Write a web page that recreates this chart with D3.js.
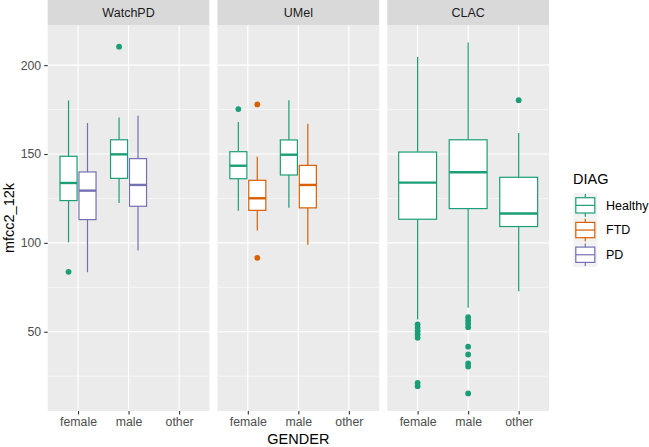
<!DOCTYPE html>
<html><head><meta charset="utf-8">
<script src="https://cdn.jsdelivr.net/npm/d3@7"></script>
<style>body{margin:0;background:#fff;} text{font-family:Arial,"Liberation Sans",sans-serif;}</style>
</head><body><svg id="c" width="649" height="447"></svg>
<script>
const panels = ["WatchPD", "UMel", "CLAC"];
const genders = ["female", "male", "other"];
const diags = ["Healthy", "FTD", "PD"];
const diagColors = ["#1B9E77", "#D95F02", "#7570B3"];
const yTicks = [50, 100, 150, 200];
const yMinor = [25, 75, 125, 175];

// box stats: [panel, gender, diag, lowerWhisker, q1, median, q3, upperWhisker]
const boxesWatchPD = [
  ["WatchPD", "female", "Healthy", 100.3, 123.8, 133.7, 148.7, 180.1],
  ["WatchPD", "female", "PD", 83.5, 113.1, 129.4, 139.9, 167.4],
  ["WatchPD", "male", "Healthy", 122.5, 136.3, 149.8, 158.0, 170.6],
  ["WatchPD", "male", "PD", 95.7, 120.6, 132.6, 147.4, 171.5]
];
const boxesUMel = [
  ["UMel", "female", "Healthy", 118.1, 136.1, 143.4, 151.3, 168.0],
  ["UMel", "female", "FTD", 106.9, 118.3, 125.1, 135.2, 148.5],
  ["UMel", "male", "Healthy", 119.7, 138.2, 149.6, 157.9, 180.3],
  ["UMel", "male", "FTD", 99.0, 119.7, 132.6, 143.6, 167.0]
];
const boxesCLAC = [
  ["CLAC", "female", "Healthy", 56.9, 113.3, 133.9, 151.1, 204.5],
  ["CLAC", "male", "Healthy", 63.5, 119.3, 139.7, 158.0, 212.7],
  ["CLAC", "other", "Healthy", 72.8, 109.2, 116.5, 136.9, 161.8]
];
// outliers: [panel, gender, diag, value]
const outliers = [
  ["WatchPD", "female", "Healthy", 83.7],
  ["WatchPD", "male", "Healthy", 210.4],
  ["UMel", "female", "Healthy", 175.3],
  ["UMel", "female", "FTD", 177.9],
  ["UMel", "female", "FTD", 91.6],
  ["CLAC", "female", "Healthy", 54.1],
  ["CLAC", "female", "Healthy", 52.2],
  ["CLAC", "female", "Healthy", 50.3],
  ["CLAC", "female", "Healthy", 48.5],
  ["CLAC", "female", "Healthy", 46.6],
  ["CLAC", "female", "Healthy", 21.3],
  ["CLAC", "female", "Healthy", 19.4],
  ["CLAC", "male", "Healthy", 58.2],
  ["CLAC", "male", "Healthy", 56.4],
  ["CLAC", "male", "Healthy", 54.5],
  ["CLAC", "male", "Healthy", 52.6],
  ["CLAC", "male", "Healthy", 41.6],
  ["CLAC", "male", "Healthy", 37.2],
  ["CLAC", "male", "Healthy", 32.2],
  ["CLAC", "male", "Healthy", 30.4],
  ["CLAC", "male", "Healthy", 15.3],
  ["CLAC", "other", "Healthy", 180.3]
];

const boxes = boxesWatchPD.concat(boxesUMel, boxesCLAC).map(r => ({
  panel: r[0], gender: r[1], diag: r[2], lw: r[3], q1: r[4], med: r[5], q3: r[6], uw: r[7]
}));

const svg = d3.select("#c");
const plotTop = 25, plotBottom = 411, stripH = 25;
const panelW = 161.7, panelX0 = 47.7, panelGap = 8.1;
const color = d3.scaleOrdinal().domain(diags).range(diagColors);

const allVals = boxes.flatMap(b => [b.lw, b.uw]).concat(outliers.map(o => o[3]));
const lo = d3.min(allVals), hi = d3.max(allVals), pad = (hi - lo) * 0.05;
const y = d3.scaleLinear().domain([lo - pad, hi + pad]).range([plotBottom, plotTop]);

panels.forEach((p, pi) => {
  const x0 = panelX0 + pi * (panelW + panelGap);
  const g = svg.append("g").attr("transform", `translate(${x0},0)`);
  const x = d3.scalePoint().domain(genders).range([0, panelW]).padding(0.6);
  const step = x.step();
  // strip
  g.append("rect").attr("x", 0).attr("y", 0).attr("width", panelW).attr("height", stripH).attr("fill", "#D9D9D9");
  g.append("text").attr("x", panelW / 2).attr("y", stripH / 2).attr("dy", "0.35em").attr("text-anchor", "middle")
    .attr("font-size", 12.5).attr("fill", "#1A1A1A").text(p);
  // panel bg
  g.append("rect").attr("x", 0).attr("y", plotTop).attr("width", panelW).attr("height", plotBottom - plotTop).attr("fill", "#EBEBEB");
  yMinor.forEach(v => g.append("line").attr("x1", 0).attr("x2", panelW).attr("y1", y(v)).attr("y2", y(v))
    .attr("stroke", "#fff").attr("stroke-width", 0.55));
  yTicks.forEach(v => g.append("line").attr("x1", 0).attr("x2", panelW).attr("y1", y(v)).attr("y2", y(v))
    .attr("stroke", "#fff").attr("stroke-width", 1.1));
  genders.forEach(gd => g.append("line").attr("x1", x(gd)).attr("x2", x(gd)).attr("y1", plotTop).attr("y2", plotBottom)
    .attr("stroke", "#fff").attr("stroke-width", 1.1));
  // x axis
  const xa = g.append("g").attr("transform", `translate(0,${plotBottom})`)
    .call(d3.axisBottom(x).tickSize(3.5).tickPadding(3));
  xa.select(".domain").remove();
  xa.selectAll(".tick line").attr("stroke", "#333").attr("stroke-width", 1.1);
  xa.selectAll(".tick text").attr("font-size", 12.3).attr("fill", "#4D4D4D").attr("font-family", "Arial,'Liberation Sans',sans-serif");

  genders.forEach(gd => {
    const bs = boxes.filter(b => b.panel === p && b.gender === gd);
    if (!bs.length) return;
    const full = 0.75 * step;
    let band;
    if (bs.length === 1) band = d3.scaleBand().domain(bs.map(b => b.diag)).range([x(gd) - full / 2, x(gd) + full / 2]);
    else band = d3.scaleBand().domain(bs.map(b => b.diag)).range([x(gd) - full / 2, x(gd) + full / 2]).paddingInner(0.1).paddingOuter(0.05);
    bs.forEach(b => {
      const bx = band(b.diag), bw = band.bandwidth(), cx = bx + bw / 2, c = color(b.diag);
      g.append("line").attr("x1", cx).attr("x2", cx).attr("y1", y(b.uw)).attr("y2", y(b.q3)).attr("stroke", c).attr("stroke-width", 1.2);
      g.append("line").attr("x1", cx).attr("x2", cx).attr("y1", y(b.q1)).attr("y2", y(b.lw)).attr("stroke", c).attr("stroke-width", 1.2);
      g.append("rect").attr("x", bx).attr("y", y(b.q3)).attr("width", bw).attr("height", y(b.q1) - y(b.q3))
        .attr("fill", "#fff").attr("stroke", c).attr("stroke-width", 1.2);
      g.append("line").attr("x1", bx).attr("x2", bx + bw).attr("y1", y(b.med)).attr("y2", y(b.med)).attr("stroke", c).attr("stroke-width", 2.4);
      outliers.filter(o => o[0] === p && o[1] === gd && o[2] === b.diag).forEach(o => {
        g.append("circle").attr("cx", cx).attr("cy", y(o[3])).attr("r", 2.9).attr("fill", c);
      });
    });
  });
});

// y axis
const ya = svg.append("g").attr("transform", `translate(${panelX0},0)`)
  .call(d3.axisLeft(y).tickValues(yTicks).tickSize(3.5).tickPadding(3));
ya.select(".domain").remove();
ya.selectAll(".tick line").attr("stroke", "#333").attr("stroke-width", 1.1);
ya.selectAll(".tick text").attr("font-size", 12.3).attr("fill", "#4D4D4D").attr("font-family", "Arial,'Liberation Sans',sans-serif");

// axis titles
svg.append("text").attr("transform", `translate(14,${(plotTop + plotBottom) / 2}) rotate(-90)`).attr("text-anchor", "middle")
  .attr("font-size", 14.5).attr("fill", "#000").text("mfcc2_12k");
const midX = panelX0 + (3 * panelW + 2 * panelGap) / 2;
svg.append("text").attr("x", midX).attr("y", 444).attr("text-anchor", "middle")
  .attr("font-size", 14.5).attr("fill", "#000").text("GENDER");

// legend
const lg = svg.append("g");
lg.append("text").attr("x", 573).attr("y", 184).attr("font-size", 14.5).attr("fill", "#000").text("DIAG");
const keyX = 573.3, keyY = 193, keyW = 24, keyH = 24.7;
diags.forEach((d, i) => {
  const ky = keyY + i * keyH, c = color(d);
  lg.append("rect").attr("x", keyX).attr("y", ky).attr("width", keyW).attr("height", keyH).attr("fill", "#F2F2F2");
  const cx = keyX + keyW / 2;
  lg.append("line").attr("x1", cx).attr("x2", cx).attr("y1", ky + 1).attr("y2", ky + keyH - 1).attr("stroke", c).attr("stroke-width", 1.2);
  lg.append("rect").attr("x", keyX + 2.5).attr("y", ky + 4.7).attr("width", keyW - 5).attr("height", keyH - 9.4)
    .attr("fill", "#fff").attr("stroke", c).attr("stroke-width", 1.2);
  lg.append("line").attr("x1", keyX + 2.5).attr("x2", keyX + keyW - 2.5).attr("y1", ky + keyH / 2).attr("y2", ky + keyH / 2)
    .attr("stroke", c).attr("stroke-width", 1.2);
  lg.append("text").attr("x", 606).attr("y", ky + keyH / 2).attr("dy", "0.35em").attr("font-size", 12.5).attr("fill", "#000").text(d);
});
</script></body></html>
